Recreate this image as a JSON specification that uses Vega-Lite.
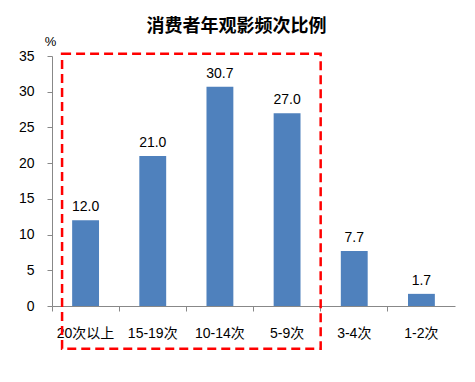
{
  "$schema": "https://vega.github.io/schema/vega-lite/v6.json",
  "width": 403,
  "height": 250,
  "autosize": "none",
  "padding": {"left": 52, "top": 56, "right": 20, "bottom": 76},
  "background": "white",
  "config": {"view": {"stroke": null}, "font": "Liberation Sans, Noto Sans CJK SC"},
  "title": {"text": "消费者年观影频次比例", "font": "Noto Sans CJK SC", "fontSize": 18, "fontWeight": "bold", "color": "#000", "anchor": "middle", "dx": -17, "offset": -1},
  "datasets": {
    "bars": [
      {"cat": "20次以上", "v": 12.0},
      {"cat": "15-19次", "v": 21.0},
      {"cat": "10-14次", "v": 30.7},
      {"cat": "5-9次", "v": 27.0},
      {"cat": "3-4次", "v": 7.7},
      {"cat": "1-2次", "v": 1.7}
    ],
    "box": [{"from": "20次以上", "to": "5-9次", "lo": -6.0, "hi": 35.3}]
  },
  "encoding": {
    "x": {"field": "cat", "type": "nominal",
      "scale": {"domain": ["20次以上", "15-19次", "10-14次", "5-9次", "3-4次", "1-2次"], "paddingInner": 0, "paddingOuter": 0},
      "axis": {"title": null, "labelAngle": 0, "bandPosition": 0, "domainColor": "#888", "tickColor": "#888", "tickSize": 5, "labelPadding": 15, "labelFontSize": 14, "labelColor": "#000", "labelFont": "Liberation Sans, Noto Sans CJK SC"}},
    "y": {"field": "v", "type": "quantitative",
      "scale": {"domain": [0, 35], "nice": false},
      "axis": {"values": [0, 5, 10, 15, 20, 25, 30, 35], "labelOverlap": false, "grid": false, "domainColor": "#888", "tickColor": "#888", "tickSize": 5, "labelPadding": 13, "labelFontSize": 14, "labelColor": "#000",
        "title": "%", "titleAngle": 0, "titleX": -2, "titleY": -8, "titleAlign": "center", "titleBaseline": "bottom", "titleFontSize": 13, "titleFontWeight": "normal", "titleColor": "#000"}}
  },
  "layer": [
    {
      "data": {"name": "bars"},
      "mark": {"type": "bar", "color": "#4F81BD", "width": {"band": 0.4}}
    },
    {
      "data": {"name": "bars"},
      "mark": {"type": "text", "dy": -13, "fontSize": 14, "color": "#000", "font": "Liberation Sans"},
      "encoding": {
        "text": {"field": "v", "type": "quantitative", "format": ".1f"}
      }
    },
    {
      "data": {"name": "box"},
      "mark": {"type": "rect", "fill": null, "stroke": "#FF0000", "strokeWidth": 2.5, "strokeDash": [9, 5], "clip": false},
      "encoding": {
        "x": {"field": "from", "type": "nominal", "bandPosition": 0.15},
        "x2": {"field": "to", "bandPosition": 1},
        "y": {"field": "lo", "type": "quantitative"},
        "y2": {"field": "hi"}
      }
    }
  ]
}
